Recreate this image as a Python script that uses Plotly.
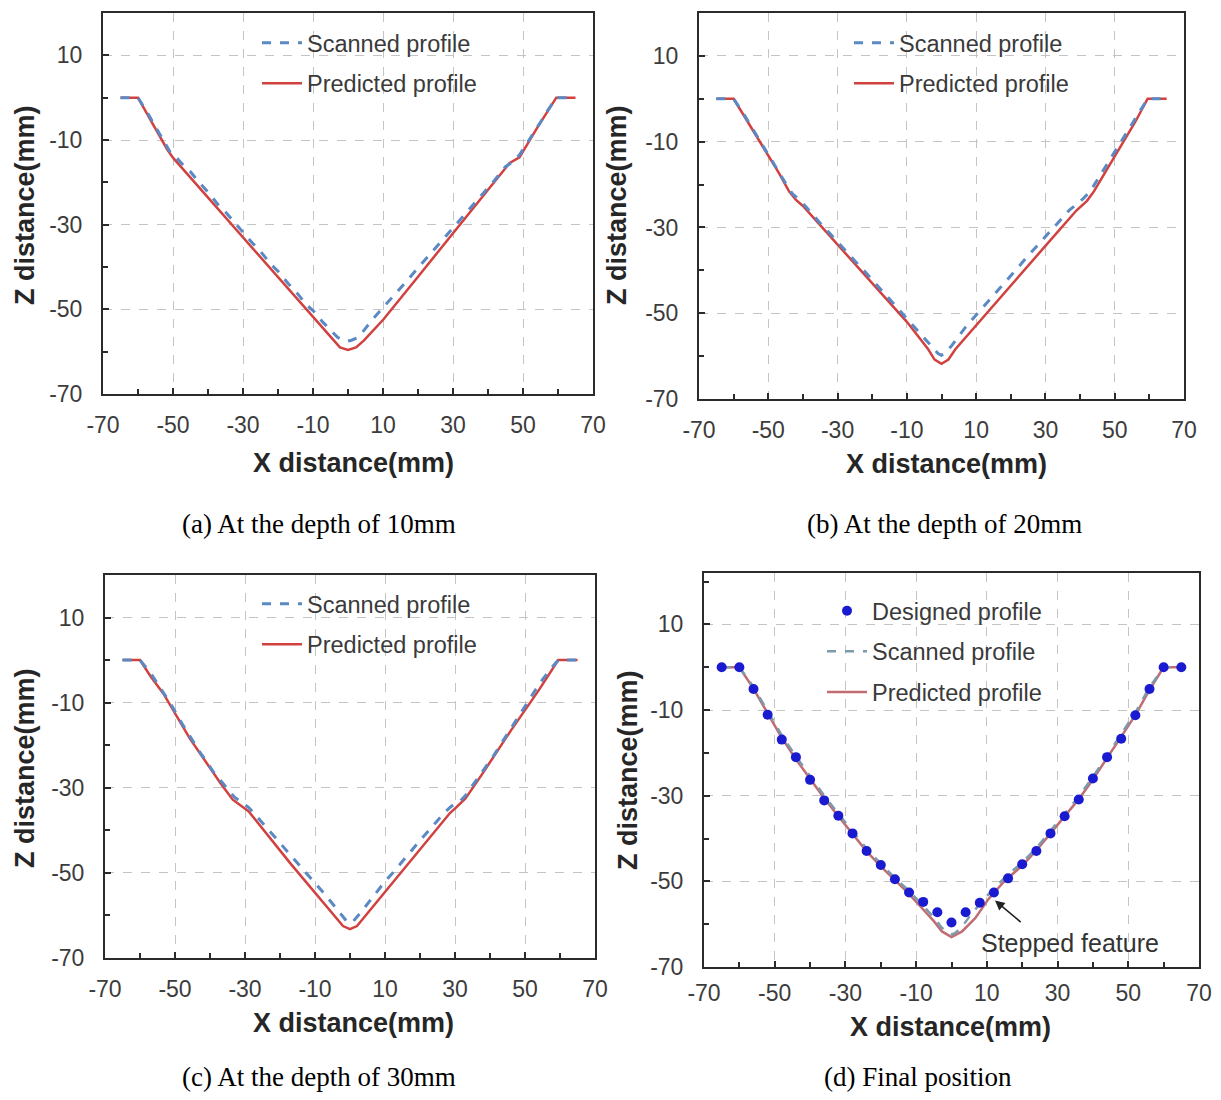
import plotly.graph_objects as go

W, H = 1221, 1100

# ---------------- data ----------------
# (a) depth 10 mm
a_scan_x = [-65, -60, -57, -55, -53, -51, -49, -47, -45, -43, -40, -37, -35, -32, -30, -27, -25, -22, -20, -17,
            -15, -12, -10, -7, -5, -3, -1, 0, 1, 3, 5, 7, 10, 12, 15, 17, 20, 22, 25, 27, 30, 32, 35, 37, 40,
            42, 45, 47, 49, 51, 53, 55, 57, 59.5, 65]
a_scan_z = [0, 0, -4, -6.8, -9.8, -12.6, -14.2, -16, -17.5, -19.6, -22.3, -25.4, -27, -30, -31.8, -34.6, -36.3,
            -39.4, -41, -44, -45.7, -48.8, -50.3, -53.2, -55, -56.6, -57.4, -57.5, -57.3, -56.6, -54.5, -52.4,
            -49.6, -47.8, -44.9, -43.1, -40.2, -38.4, -35.5, -33.6, -30.8, -28.9, -26, -24.1, -21.2, -19.4,
            -16.3, -15.2, -13.5, -11, -8.4, -5.8, -3.1, 0, 0]
a_pred_x = [-65, -60, -56, -51.6, -49.9, -40, -30, -20, -10, -4.2, -2.3, 0, 2.3, 4.5, 10.1, 20, 26.3, 36, 46.2,
            49, 54, 59.5, 65]
a_pred_z = [0, 0, -5.9, -12.3, -14.3, -23.6, -33, -42.4, -51.8, -57.1, -59, -59.6, -59, -57.4, -52.4, -42.3,
            -35.9, -25.9, -15.4, -14.1, -7.2, 0, 0]

# (b) depth 20 mm
b_scan_x = [-65, -60, -57, -55, -53, -51, -49, -47, -45, -43, -41, -39, -37, -35, -32, -30, -27, -25, -22, -20,
            -17, -15, -12, -10, -7, -5, -3, -1, 0, 1, 3, 5, 7, 10, 12, 15, 17, 20, 22, 25, 27, 30, 32, 35, 37,
            39, 41, 43, 45, 47, 49, 51, 53, 55, 57, 59.5, 65]
b_scan_z = [0, 0, -3.7, -6.4, -9.0, -11.8, -14.3, -16.9, -19.7, -22.2, -23.6, -25.3, -27.2, -29, -31.6, -33.3,
            -36, -37.8, -40.4, -42.2, -44.9, -46.6, -49.3, -51.1, -53.8, -55.6, -57.6, -59.4, -59.8, -59.4,
            -57.5, -55.3, -53.2, -50.4, -48.6, -45.8, -44, -41.2, -39.4, -36.6, -34.8, -32, -30.3, -27.6,
            -25.9, -24.6, -23.2, -21.5, -18.9, -16.3, -13.5, -10.9, -8.2, -5.6, -3.2, 0, 0]
b_pred_x = [-65, -60, -56, -52, -47, -44, -42, -40, -30, -20, -10, -4, -2, 0, 2, 4, 10, 20, 30, 39, 42, 44,
            47, 52, 56, 59.5, 65]
b_pred_z = [0, 0, -5.3, -10.6, -17.2, -21.6, -23.6, -25, -34, -43, -52, -58.2, -60.8, -61.8, -60.8, -58.4,
            -52.8, -43.5, -34.3, -26, -23.8, -21.6, -17.5, -10.8, -5.3, 0, 0]

# (c) depth 30 mm
c_scan_x = [-65, -60, -57, -55, -53, -51, -49, -47, -45, -43, -41, -39, -37, -35, -33, -31, -29, -27, -25, -22,
            -20, -17, -15, -12, -10, -7, -5, -3, -1, 0, 1, 3, 5, 7, 10, 12, 15, 17, 20, 22, 25, 27, 29, 31, 33,
            35, 37, 39, 41, 43, 45, 47, 49, 51, 53, 55, 57, 59.5, 65]
c_scan_z = [0, 0, -3, -5.6, -7.9, -10.6, -13.6, -16.3, -18.8, -21.5, -23.8, -26.3, -28.3, -30.3, -32.2, -33.4,
            -34.6, -36.4, -38.3, -41.1, -43, -46, -47.8, -50.6, -52.4, -55.2, -57.3, -59.4, -61.3, -61.8,
            -61.3, -59.4, -57.3, -55, -52, -50.2, -47.2, -45.3, -42.4, -40.5, -37.6, -35.8, -34.3, -33.6,
            -31.8, -29.5, -27.2, -24.8, -22.5, -19.9, -17.3, -14.6, -12, -9.5, -7, -4.6, -2.4, 0, 0]
c_pred_x = [-65, -60, -57, -53.3, -45.7, -37.1, -33.5, -31.4, -29, -17.1, -8, -4, -2, 0, 2, 4, 8, 17, 28.5,
            30.5, 33, 38, 46, 54, 59.5, 65]
c_pred_z = [0, 0, -3.8, -7.9, -18.5, -28.8, -32.8, -34, -35.5, -47.7, -56.5, -60.5, -62.5, -63.2, -62.5,
            -60.5, -56.5, -47.5, -36, -34.5, -32.5, -26.5, -16.5, -7, 0, 0]

# (d) final position
d_design_x = [-65, -60, -56, -52, -48, -44, -40, -36, -32, -28, -24, -20, -16, -12, -8, -4, 0, 4, 8, 12, 16,
              20, 24, 28, 32, 36, 40, 44, 48, 52, 56, 60, 65]
d_design_z = [0, 0, -5.1, -11.1, -16.9, -21, -26.3, -31.1, -34.7, -38.8, -42.9, -46.2, -49.5, -52.6, -54.8,
              -57.2, -59.6, -57.2, -55, -52.6, -49.3, -46, -42.9, -38.8, -34.8, -30.9, -26, -21, -16.7,
              -11.2, -5.1, 0, 0]
d_scan_x = [-65, -60, -56, -52, -48, -44, -40, -36, -32, -28, -24, -20, -16, -12, -8, -5, -3, -1, 0, 1, 3, 5,
            8, 12, 16, 20, 24, 28, 32, 36, 40, 44, 48, 52, 56, 60, 65]
d_scan_z = [0, 0, -4.6, -10.3, -15.9, -20.8, -25.4, -30, -34.2, -38.2, -42.4, -45.9, -49.2, -52.2, -55.6,
            -58.4, -60.6, -62.1, -62.4, -62.1, -60.6, -58.3, -55.3, -51.6, -48.4, -45.6, -42.2, -38.2, -34.2,
            -30.2, -25.6, -20.6, -15.9, -10.6, -4.7, 0, 0]
d_pred_x = [-65, -60, -56, -52, -48, -44, -40, -36, -32, -28, -24, -20, -16, -12.5, -9.3, -5, -2.7, 0, 3, 6.7,
            10.5, 14.7, 20, 24, 28, 32, 36, 40, 44, 48, 52, 56, 60, 65]
d_pred_z = [0, 0, -5, -10.8, -16.5, -21.5, -26, -30.6, -34.8, -38.8, -43, -46.5, -49.8, -52.5, -55.4, -59.3,
            -61.7, -63, -61.7, -58.6, -54.1, -50.2, -46.3, -42.8, -38.8, -34.8, -30.8, -26.2, -21.2, -16.5,
            -11.2, -5.3, 0, 0]

tick_vals = [-70, -50, -30, -10, 10, 30, 50, 70]
tick_text = ["-70", "-50", "-30", "-10", "10", "30", "50", "70"]

captions = ["(a) At the depth of 10mm", "(b) At the depth of 20mm",
            "(c) At the depth of 30mm", "(d) Final position"]
x_title = "X distance(mm)"
z_title = "Z distance(mm)"
leg_scan = "Scanned profile"
leg_pred = "Predicted profile"
leg_design = "Designed profile"
note_text = "Stepped feature"

# ---------------- styling ----------------
FONT = "Arial, 'Liberation Sans', sans-serif"
SERIF = "'Times New Roman', 'Liberation Serif', serif"
SCAN_C = "#5a89c4"
PRED_C = "#d0413f"
SCAN_D = "#7d9aac"
PRED_D = "#bf6d72"
DES_C = "#1a1ad0"

# panel pixel boxes: left, right, top, bottom, y max, x tick-label standoff
panels = [
    (103, 593, 13, 394, 20, 9),
    (699, 1184, 13, 399, 20, 9),
    (105, 595, 575, 958, 20, 9),
    (704, 1199, 573, 967, 22, 4),
]


def px_x(p):
    return p / W


def px_y(p):
    return 1 - p / H


fig = go.Figure()

layout = dict(
    width=W, height=H,
    margin=dict(l=0, r=0, t=0, b=0, autoexpand=False),
    paper_bgcolor="white", plot_bgcolor="white",
    font=dict(family=FONT, size=22, color="#3a3a3a"),
    showlegend=True,
)

for i, (l, r, t, b, ymax, xso) in enumerate(panels):
    n = "" if i == 0 else str(i + 1)
    common = dict(
        showline=True, linecolor="#2b2b2b", linewidth=2, mirror=True,
        ticks="inside", ticklen=6, tickwidth=2, tickcolor="#2b2b2b",
        showgrid=True, gridcolor="#c4c4c4", griddash="dash", gridwidth=1,
        zeroline=False, tickmode="array", tickvals=tick_vals, ticktext=tick_text,
        minor=dict(tickmode="linear", ticks="inside", ticklen=5, tickwidth=2, tickcolor="#2b2b2b",
                   dtick=10, tick0=-70, showgrid=False),
        tickfont=dict(family=FONT, size=23, color="#3c3c3c"),
        automargin=False,
    )
    layout["xaxis" + n] = dict(common, domain=[px_x(l), px_x(r)], range=[-70, 70],
                               anchor="y" + n, ticklabelstandoff=xso)
    layout["yaxis" + n] = dict(common, domain=[px_y(b), px_y(t)], range=[-70, ymax],
                               anchor="x" + n, ticklabelstandoff=14)

# legends
leg_common = dict(bgcolor="rgba(0,0,0,0)", borderwidth=0, xanchor="left", yanchor="top",
                  font=dict(family=FONT, size=23.5, color="#3a3a3a"), tracegroupgap=7,
                  itemwidth=40)
layout["legend"] = dict(leg_common, x=px_x(257), y=px_y(21))
layout["legend2"] = dict(leg_common, x=px_x(849), y=px_y(21))
layout["legend3"] = dict(leg_common, x=px_x(257), y=px_y(582))
layout["legend4"] = dict(leg_common, x=px_x(822), y=px_y(589))

fig.update_layout(**layout)

sets = [
    (a_scan_x, a_scan_z, a_pred_x, a_pred_z),
    (b_scan_x, b_scan_z, b_pred_x, b_pred_z),
    (c_scan_x, c_scan_z, c_pred_x, c_pred_z),
]
for i, (sx, sz, px_, pz) in enumerate(sets):
    n = "" if i == 0 else str(i + 1)
    leg = "legend" if i == 0 else "legend" + str(i + 1)
    fig.add_trace(go.Scatter(x=px_, y=pz, mode="lines", name=leg_pred,
                             line=dict(color=PRED_C, width=2.5),
                             xaxis="x" + n, yaxis="y" + n, legend=leg,
                             legendgroup=f"p{i}", legendrank=2))
    fig.add_trace(go.Scatter(x=sx, y=sz, mode="lines", name=leg_scan,
                             line=dict(color=SCAN_C, width=3, dash="dash"),
                             xaxis="x" + n, yaxis="y" + n, legend=leg,
                             legendgroup=f"s{i}", legendrank=1))

fig.add_trace(go.Scatter(x=d_pred_x, y=d_pred_z, mode="lines", name=leg_pred,
                         line=dict(color=PRED_D, width=2.5),
                         xaxis="x4", yaxis="y4", legend="legend4", legendgroup="p3", legendrank=3))
fig.add_trace(go.Scatter(x=d_scan_x, y=d_scan_z, mode="lines", name=leg_scan,
                         line=dict(color=SCAN_D, width=2.5, dash="dash"),
                         xaxis="x4", yaxis="y4", legend="legend4", legendgroup="s3", legendrank=2))
fig.add_trace(go.Scatter(x=d_design_x, y=d_design_z, mode="markers", name=leg_design,
                         marker=dict(color=DES_C, size=10),
                         xaxis="x4", yaxis="y4", legend="legend4", legendgroup="d3", legendrank=1))

# axis titles and captions
ann = []
xt_pos = [(353, 463), (946, 464), (353, 1023), (951, 1027)]
yt_pos = [(25, 205), (617, 205), (25, 768), (628, 770)]
cap_pos = [(319, 524), (944, 524), (319, 1077), (918, 1077)]
for (xx, yy) in xt_pos:
    ann.append(dict(text=x_title, x=px_x(xx), y=px_y(yy), xref="paper", yref="paper", showarrow=False,
                    xanchor="center", yanchor="middle",
                    font=dict(family=FONT, size=27, color="#262626", weight="bold")))
for (xx, yy) in yt_pos:
    ann.append(dict(text=z_title, x=px_x(xx), y=px_y(yy), xref="paper", yref="paper", showarrow=False,
                    xanchor="center", yanchor="middle", textangle=-90,
                    font=dict(family=FONT, size=27, color="#262626", weight="bold")))
for txt, (xx, yy) in zip(captions, cap_pos):
    ann.append(dict(text=txt, x=px_x(xx), y=px_y(yy), xref="paper", yref="paper", showarrow=False,
                    xanchor="center", yanchor="middle",
                    font=dict(family=SERIF, size=27, color="black")))

# stepped feature arrow + label
ann.append(dict(text="", x=12.3, y=-54.5, ax=20, ay=-59.8, xref="x4", yref="y4", axref="x4", ayref="y4",
                showarrow=True, arrowhead=2, arrowsize=1.2, arrowwidth=1.6, arrowcolor="#222"))
ann.append(dict(text=note_text, x=33.6, y=-64.3, xref="x4", yref="y4", showarrow=False,
                xanchor="center", yanchor="middle", font=dict(family=FONT, size=25, color="#333")))

fig.update_layout(annotations=ann)

fig.write_html("out.html", post_script="document.body.style.margin='0';")
